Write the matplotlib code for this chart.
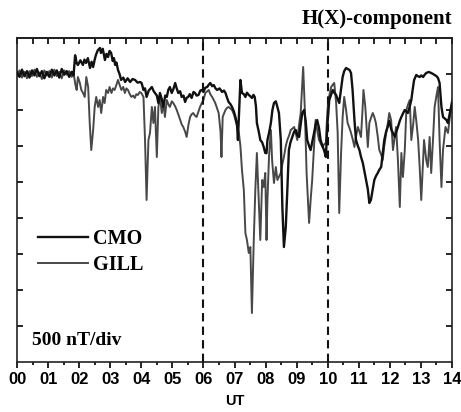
import matplotlib
matplotlib.use("Agg")
import matplotlib.pyplot as plt

# Time in hours UT, H-component in nT (relative to quiet level)
cmo_t = [0.00, 0.08, 0.16, 0.24, 0.32, 0.40, 0.48, 0.56, 0.64, 0.72, 0.80, 0.88, 0.96, 1.04, 1.12, 1.20,
         1.28, 1.36, 1.44, 1.52, 1.60, 1.68, 1.76, 1.82, 1.87, 1.92, 1.96, 2.04, 2.12, 2.17, 2.22, 2.28,
         2.35, 2.40, 2.45, 2.50, 2.54, 2.60, 2.67, 2.70, 2.76, 2.83, 2.88, 2.93, 2.98, 3.03, 3.08, 3.12,
         3.16, 3.20, 3.25, 3.30, 3.35, 3.42, 3.48, 3.56, 3.64, 3.72, 3.80, 3.88, 3.96, 4.01, 4.07, 4.12,
         4.17, 4.24, 4.34, 4.40, 4.44, 4.50, 4.55, 4.60, 4.66, 4.71, 4.77, 4.82, 4.87, 4.92, 4.98, 5.04,
         5.09, 5.14, 5.19, 5.25, 5.30, 5.36, 5.41, 5.46, 5.51, 5.56, 5.62, 5.68, 5.73, 5.78, 5.84, 5.90,
         5.95, 6.00, 6.06, 6.12, 6.17, 6.22, 6.28, 6.33, 6.39, 6.44, 6.52, 6.60, 6.66, 6.71, 6.76, 6.81,
         6.87, 6.92, 6.98, 7.03, 7.08, 7.11, 7.15, 7.19, 7.22, 7.24, 7.30, 7.35, 7.40, 7.46, 7.51, 7.56,
         7.61, 7.65, 7.69, 7.72, 7.78, 7.83, 7.89, 7.94, 7.99, 8.03, 8.06, 8.12, 8.17, 8.22, 8.27, 8.33,
         8.38, 8.43, 8.49, 8.54, 8.59, 8.65, 8.70, 8.75, 8.80, 8.86, 8.92, 8.97, 9.02, 9.08, 9.13, 9.18,
         9.24, 9.29, 9.34, 9.40, 9.45, 9.50, 9.56, 9.61, 9.66, 9.72, 9.77, 9.83, 9.88, 9.94, 9.99, 10.05,
         10.10, 10.16, 10.21, 10.27, 10.32, 10.37, 10.43, 10.48, 10.53, 10.59, 10.64, 10.70, 10.75, 10.80,
         10.86, 10.91, 10.97, 11.02, 11.07, 11.13, 11.18, 11.23, 11.29, 11.34, 11.39, 11.45, 11.50, 11.55,
         11.61, 11.66, 11.72, 11.77, 11.82, 11.88, 11.93, 11.98, 12.05, 12.10, 12.16, 12.21, 12.26, 12.32,
         12.37, 12.42, 12.48, 12.53, 12.58, 12.64, 12.69, 12.74, 12.78, 12.85, 12.90, 12.96, 13.01, 13.07,
         13.12, 13.17, 13.25, 13.33, 13.39, 13.44, 13.50, 13.55, 13.60, 13.66, 13.71, 13.77, 13.82, 13.87,
         13.93, 14.00]
cmo_v = [20, -40, 60, -30, 40, -50, 50, -20, 70, -30, 40, -60, 30, -40, 60, -20,
         50, -50, 70, -10, 40, -40, 30, -20, 260, 150, 125, 190, 125, 200, 153, 220,
         83, 170, 97, 200, 264, 330, 361, 292, 350, 194, 280, 236, 320, 292, 180, 220,
         125, 160, 56, 0, -83, -50, -111, -60, -111, -70, -83, -120, -111, -125, -222, -200,
         -319, -230, -181, -240, -264, -300, -403, -264, -350, -458, -300, -319, -220, -181, -264, -200,
         -125, -200, -264, -240, -319, -300, -389, -330, -319, -280, -333, -250, -264, -300, -292, -230,
         -222, -250, -190, -181, -150, -125, -170, -153, -200, -222, -200, -250, -230, -264, -330, -389,
         -420, -458, -520, -597, -700, -917, -500, -83, -200, -264, -280, -319, -260, -292, -310, -333,
         -290, -319, -450, -681, -800, -917, -950, -1014, -1097, -1100, -917, -800, -681, -500, -403, -380,
         -458, -542, -917, -1847, -2403, -2125, -1611, -1056, -950, -875, -800, -778, -850, -875, -700, -542,
         -500, -650, -917, -1000, -1056, -950, -819, -700, -639, -750, -917, -1000, -1056, -1153, -700, -361,
         -300, -222, -260, -292, -350, -403, -200, -42, 40, 83, 70, 56, 14, -222,
         -639, -917, -1000, -1056, -1150, -1236, -1350, -1472, -1600, -1792, -1750, -1600, -1472, -1420,
         -1375, -1330, -1292, -1100, -917, -800, -736, -650, -778, -820, -875, -800, -736, -650,
         -597, -550, -500, -520, -542, -450, -361, -200, -83, -14, -30, -42, -20, -42,
         -10, 14, 28, 14, 0, -14, -30, -56, -125, -458, -597, -620, -639, -681,
         -542, -403]

gill_t = [0.00, 0.08, 0.16, 0.24, 0.32, 0.40, 0.48, 0.56, 0.64, 0.72, 0.80, 0.88, 0.96, 1.04, 1.12, 1.20,
          1.28, 1.36, 1.44, 1.52, 1.60, 1.68, 1.76, 1.82, 1.88, 1.92, 1.96, 2.02, 2.07, 2.12, 2.18, 2.23,
          2.29, 2.34, 2.39, 2.45, 2.50, 2.55, 2.61, 2.66, 2.71, 2.77, 2.82, 2.87, 2.93, 2.98, 3.04, 3.09,
          3.14, 3.20, 3.25, 3.30, 3.36, 3.42, 3.47, 3.52, 3.57, 3.63, 3.68, 3.74, 3.79, 3.84, 3.89, 3.95,
          4.00, 4.07, 4.12, 4.17, 4.23, 4.28, 4.34, 4.39, 4.44, 4.50, 4.55, 4.60, 4.66, 4.71, 4.76, 4.82,
          4.87, 4.92, 4.98, 5.03, 5.09, 5.14, 5.19, 5.25, 5.30, 5.35, 5.41, 5.46, 5.52, 5.57, 5.62, 5.67,
          5.73, 5.78, 5.84, 5.89, 5.95, 6.00, 6.06, 6.12, 6.17, 6.22, 6.28, 6.33, 6.38, 6.44, 6.49, 6.55,
          6.58, 6.62, 6.67, 6.71, 6.76, 6.81, 6.87, 6.92, 6.98, 7.03, 7.08, 7.14, 7.19, 7.24, 7.30, 7.35,
          7.40, 7.46, 7.51, 7.56, 7.62, 7.67, 7.72, 7.78, 7.83, 7.89, 7.94, 7.99, 8.03, 8.06, 8.11, 8.17,
          8.21, 8.27, 8.33, 8.38, 8.44, 8.49, 8.54, 8.59, 8.65, 8.70, 8.76, 8.81, 8.86, 8.92, 8.97, 9.02,
          9.08, 9.13, 9.21, 9.26, 9.32, 9.40, 9.45, 9.50, 9.56, 9.61, 9.66, 9.72, 9.77, 9.83, 9.88, 9.94,
          9.97, 10.00, 10.05, 10.11, 10.16, 10.21, 10.27, 10.32, 10.37, 10.43, 10.48, 10.53, 10.59, 10.64,
          10.70, 10.75, 10.80, 10.86, 10.91, 10.97, 11.02, 11.07, 11.12, 11.15, 11.21, 11.26, 11.29, 11.34,
          11.40, 11.45, 11.50, 11.55, 11.61, 11.66, 11.72, 11.77, 11.82, 11.88, 11.93, 11.98, 12.04, 12.10,
          12.15, 12.20, 12.26, 12.32, 12.37, 12.42, 12.48, 12.53, 12.58, 12.64, 12.69, 12.75, 12.80, 12.85,
          12.91, 12.96, 13.01, 13.06, 13.10, 13.17, 13.22, 13.28, 13.33, 13.39, 13.44, 13.50, 13.55, 13.60,
          13.66, 13.71, 13.79, 13.87, 13.93, 14.00]
gill_v = [-20, 50, -50, 30, -60, 40, -30, 60, -40, 20, -70, 50, -20, 40, -50, 60,
          -30, 30, -60, 50, -10, 40, -40, 10, -150, -222, -42, -120, -222, -260, -319, -42,
          -181, -681, -1056, -778, -458, -319, -458, -361, -542, -319, -403, -222, -264, -181, -264, -200,
          -222, -150, -83, -150, -222, -180, -264, -200, -222, -280, -319, -300, -333, -280, -292, -250,
          -264, -319, -917, -1750, -917, -819, -458, -681, -458, -1153, -458, -319, -542, -403, -597, -361,
          -420, -458, -380, -403, -450, -500, -560, -639, -700, -736, -800, -875, -700, -597, -560, -542,
          -580, -597, -520, -458, -400, -361, -264, -240, -222, -280, -319, -360, -403, -480, -542, -800,
          -1153, -597, -540, -500, -470, -458, -480, -500, -560, -639, -720, -819, -1000, -1333, -1611, -2208,
          -2306, -2486, -2403, -3320, -2306, -1611, -1097, -1750, -2306, -1472, -1570, -1375, -2306, -1750, -1153, -778,
          -1195, -1514, -1292, -1472, -1420, -1375, -1250, -1153, -1000, -917, -850, -778, -760, -736, -820, -917,
          -700, -542, 97, -458, -1375, -2069, -1750, -1472, -1000, -639, -780, -917, -960, -1014, -980, -958,
          -681, -458, -300, -181, -150, -125, -400, -819, -1931, -1097, -600, -319, -500, -681,
          -750, -819, -900, -1014, -870, -736, -800, -875, -500, -222, -458, -800, -1014, -681,
          -600, -542, -600, -681, -870, -1056, -1120, -1195, -1000, -819, -700, -542, -639, -1056,
          -900, -736, -1200, -1847, -1097, -1431, -1056, -500, -430, -361, -917, -700, -458, -650,
          -917, -1300, -1750, -1300, -917, -1195, -1292, -875, -1375, -900, -458, -300, -181, -917,
          -1570, -1056, -736, -819, -600, -361]

hour_labels = ["%02d" % h for h in range(15)]
marker_hours = [6, 10]

serif = "Liberation Serif"
sans = "Liberation Sans"

fig = plt.figure(figsize=(4.61, 4.12), dpi=100)
ax = fig.add_axes([0.0369, 0.1214, 0.9436, 0.7864])

ax.plot(gill_t, gill_v, color="#484848", lw=1.4, label="GILL", zorder=2)
ax.plot(cmo_t, cmo_v, color="#111111", lw=1.7, label="CMO", zorder=3)
for h in marker_hours:
    ax.axvline(h, color="#111111", lw=1.5, dashes=(4, 2.5), zorder=4)

ax.set_xlim(0, 14)
ax.set_ylim(-4000, 500)

ax.set_xticks(range(15))
ax.set_xticklabels(hour_labels, fontfamily=sans, fontweight="bold", fontsize=12)
ax.set_xticks([h + 0.5 for h in range(14)], minor=True)
ax.set_yticks(range(-3500, 1, 500))
ax.set_yticklabels([])

ax.tick_params(axis="x", which="major", direction="out", length=4, width=1.2, pad=3,
               top=False, bottom=True)
ax.tick_params(axis="x", which="minor", direction="out", length=2.5, width=1.2,
               top=False, bottom=True)
ax.tick_params(axis="y", which="major", direction="in", length=4.5, width=1.2,
               left=True, right=True)

# top axis ticks point inward
top = ax.secondary_xaxis("top")
top.set_xticks([h * 0.5 for h in range(29)])
top.set_xticklabels([])
top.tick_params(direction="in", length=4, width=1.2)
top.spines["top"].set_linewidth(1.2)

for s in ax.spines.values():
    s.set_linewidth(1.2)
    s.set_color("#222222")

ax.set_xlabel("UT", fontfamily=sans, fontweight="bold", fontsize=10.5, labelpad=5)
ax.set_title("H(X)-component", loc="right", fontfamily=serif, fontweight="bold",
             fontsize=15, pad=10)

ax.text(0.034, 0.052, "500 nT/div", transform=ax.transAxes, fontfamily=serif,
        fontweight="bold", fontsize=14)

handles, labels = ax.get_legend_handles_labels()
leg = ax.legend(handles[::-1], labels[::-1], loc="upper left", bbox_to_anchor=(0.048, 0.41),
                frameon=False, borderpad=0, borderaxespad=0, handlelength=2.5,
                handletextpad=0.25, labelspacing=0.3,
                prop={"family": serif, "weight": "bold", "size": 14.5})

fig.savefig("out.png", dpi=100)
